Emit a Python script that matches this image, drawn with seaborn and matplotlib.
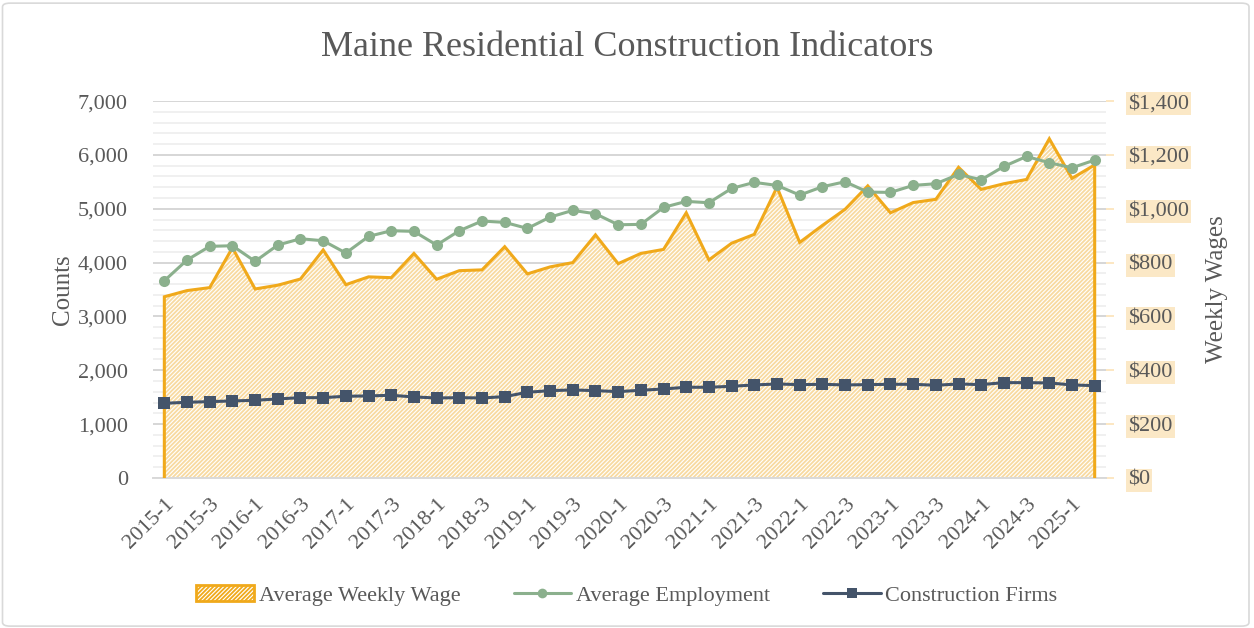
import numpy as np
import pandas as pd
import matplotlib
matplotlib.use("Agg")
import matplotlib.pyplot as plt
import seaborn as sns
from matplotlib.patches import Patch, FancyBboxPatch
from matplotlib.lines import Line2D
from matplotlib.ticker import MultipleLocator, FuncFormatter

# ---------------- data ----------------
quarters = [f"{y}-{q}" for y in range(2015, 2026) for q in range(1, 5)][:42]

avg_weekly_wage = [673, 696, 707, 855, 702, 716, 739, 847, 718, 747, 744, 834,
                   738, 770, 773, 859, 758, 784, 800, 903, 796, 834, 849, 985,
                   810, 872, 905, 1080, 875, 938, 998, 1085, 985, 1023, 1035, 1154,
                   1072, 1093, 1109, 1260, 1113, 1163]

avg_employment = [3663, 4048, 4302, 4313, 4023, 4326, 4443, 4406, 4178, 4487, 4592, 4580,
                  4326, 4592, 4772, 4747, 4635, 4845, 4970, 4907, 4703, 4710, 5026, 5137,
                  5112, 5378, 5490, 5434, 5254, 5409, 5502, 5310, 5304, 5434, 5465, 5638,
                  5539, 5787, 5972, 5855, 5762, 5904]

construction_firms = [1386, 1405, 1417, 1430, 1442, 1467, 1491, 1491, 1517, 1523, 1535, 1504,
                      1485, 1491, 1485, 1510, 1591, 1621, 1634, 1621, 1603, 1628, 1652, 1684,
                      1684, 1702, 1727, 1745, 1733, 1739, 1727, 1733, 1739, 1739, 1721, 1745,
                      1733, 1770, 1770, 1764, 1727, 1714]

tick_labels = quarters[::2]

df = pd.DataFrame({
    "pos": np.arange(len(quarters)),
    "quarter": quarters,
    "wage": avg_weekly_wage,
    "employment": avg_employment,
    "firms": construction_firms,
})

# ---------------- style ----------------
sns.set_theme(style="white")
plt.rcParams["font.family"] = ["Liberation Serif", "DejaVu Serif"]
plt.rcParams["hatch.linewidth"] = 1.3

TXT = "#595959"
ORANGE = "#F0A91B"
HATCH = "#F8DAA0"
GREEN = "#8BB08D"
SLATE = "#44546A"

fig = plt.figure(figsize=(12.54, 6.28), dpi=100)
fig.patch.set_facecolor("white")
fig.patches.append(FancyBboxPatch((0.002, 0.003), 0.994, 0.992, boxstyle="round,pad=0,rounding_size=0.006",
                                  transform=fig.transFigure, facecolor="none",
                                  edgecolor="#D9D9D9", linewidth=1.2))

ax = fig.add_axes([0.122, 0.239, 0.760, 0.600])
ax2 = ax.twinx()
ax.set_zorder(2)
ax2.set_zorder(1)
ax.patch.set_visible(False)

# ---- wage area on ax2 (bottom layer) ----
ax2.fill_between(df["pos"], 0, df["wage"], facecolor="white", edgecolor=HATCH,
                 hatch="////////", linewidth=0, zorder=2)
outline_x = np.concatenate([[df["pos"].iloc[0]], df["pos"], [df["pos"].iloc[-1]]])
outline_y = np.concatenate([[0], df["wage"], [0]])
ax2.plot(outline_x, outline_y, color=ORANGE, linewidth=2.2, zorder=3, solid_joinstyle="miter")

ax2.set_ylim(0, 1400)
ax2.yaxis.set_major_locator(MultipleLocator(200))
ax2.yaxis.set_minor_locator(MultipleLocator(40))
ax2.set_axisbelow(True)
ax2.grid(which="major", axis="y", color="#D6D6D6", linewidth=1.4)
ax2.grid(which="minor", axis="y", color="#F0F0F0", linewidth=1.4)
ax2.yaxis.set_major_formatter(FuncFormatter(lambda v, p: f"${v:,.0f}"))
ax2.tick_params(axis="y", which="major", right=True, length=6, width=1.2, color="#FCE3B8",
                labelsize=16, labelcolor=TXT, pad=10)
ax2.tick_params(axis="y", which="minor", right=False)
for lab in ax2.get_yticklabels():
    lab.set_bbox(dict(facecolor="#FBE8C6", edgecolor="none", pad=1.5))
ax2.set_ylabel("Weekly Wages", fontsize=18, color=TXT, labelpad=12)

# ---- lines on ax (top layer) ----
sns.lineplot(data=df, x="pos", y="employment", ax=ax, color=GREEN, linewidth=2.2,
             marker="o", markersize=8, markeredgewidth=0, zorder=5)
sns.lineplot(data=df, x="pos", y="firms", ax=ax, color=SLATE, linewidth=2.2,
             marker="s", markersize=8, markeredgewidth=0, zorder=5)

ax.set_ylim(0, 7000)
ax.set_xlim(-0.5, len(quarters) - 0.5)
ax.yaxis.set_major_locator(MultipleLocator(1000))
ax.yaxis.set_major_formatter(FuncFormatter(lambda v, p: f"{v:,.0f}"))
ax.tick_params(axis="y", left=False, labelsize=16, labelcolor=TXT, pad=12)
ax.set_xticks(df["pos"][::2])
ax.set_xticklabels(tick_labels, rotation=45, ha="right", rotation_mode="anchor",
                   fontsize=16, color=TXT)
ax.tick_params(axis="x", bottom=False, pad=6)
ax.set_xlabel("")
ax.set_ylabel("Counts", fontsize=18, color=TXT, labelpad=3)

for a in (ax, ax2):
    for s in ("top", "left", "right"):
        a.spines[s].set_visible(False)
ax.spines["bottom"].set_visible(False)
ax2.spines["bottom"].set_color("#D9D9D9")
ax2.spines["bottom"].set_linewidth(1.4)

fig.text(0.5, 0.924, "Maine Residential Construction Indicators", ha="center", va="center",
         fontsize=26, color=TXT)

handles = [
    Patch(facecolor="white", edgecolor=ORANGE, hatch="////////", linewidth=2.0,
          label="Average Weekly Wage"),
    Line2D([], [], color=GREEN, linewidth=2.2, marker="o", markersize=7, markeredgewidth=0,
           label="Average Employment"),
    Line2D([], [], color=SLATE, linewidth=2.2, marker="s", markersize=7, markeredgewidth=0,
           label="Construction Firms"),
]
leg = fig.legend(handles=handles, loc="center", bbox_to_anchor=(0.5, 0.052), ncol=3,
                 frameon=False, fontsize=16, handlelength=2.6, handletextpad=0.2,
                 columnspacing=2.4)
for t in leg.get_texts():
    t.set_color(TXT)

fig.savefig("out.png", dpi=100, facecolor="white")
